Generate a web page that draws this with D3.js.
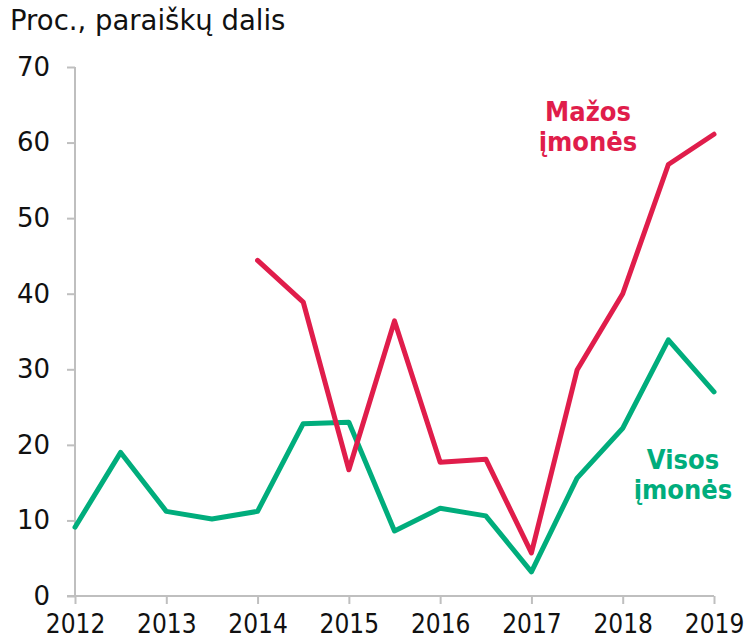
<!DOCTYPE html>
<meta charset="utf-8">
<style>
body { margin: 0; background: #fff; }
text { font-family: "DejaVu Sans", Verdana, sans-serif; fill: #111; }
.x.axis .tick text { font-family: "DejaVu Sans Condensed", "DejaVu Sans", sans-serif; }
.axis path, .axis line { stroke: #bfbfbf; stroke-width: 2px; }
.line { fill: none; stroke-width: 5px; stroke-linejoin: round; stroke-linecap: round; }
</style>
<svg width="746" height="639"></svg>
<script src="https://d3js.org/d3.v7.min.js"></script>
<script>
// half-year points, 2012 .. 2019
var periods = [2012, 2012.5, 2013, 2013.5, 2014, 2014.5, 2015, 2015.5, 2016, 2016.5, 2017, 2017.5, 2018, 2018.5, 2019];
var visos = [9.1, 19.0, 11.2, 10.2, 11.2, 22.8, 23.0, 8.6, 11.6, 10.6, 3.2, 15.6, 22.2, 33.9, 27.0];
var mazos = [null, null, null, null, 44.4, 38.9, 16.7, 36.4, 17.7, 18.1, 5.7, 29.9, 40.0, 57.1, 61.1];
var yearTicks = [2012, 2013, 2014, 2015, 2016, 2017, 2018, 2019];
var yTicks = [0, 10, 20, 30, 40, 50, 60, 70];

var svg = d3.select("svg");

var x = d3.scaleLinear().domain([2012, 2019]).range([75, 714]);
var y = d3.scaleLinear().domain([0, 70]).range([596, 67]);

svg.append("text")
    .attr("x", 10).attr("y", 30)
    .style("font-size", "27.5px")
    .text("Proc., paraiškų dalis");

var yAxis = svg.append("g").attr("class", "y axis")
    .attr("transform", "translate(75,0)")
    .call(d3.axisLeft(y).tickValues(yTicks).tickSize(8).tickSizeOuter(0).tickPadding(17));
yAxis.select(".domain").remove();
yAxis.append("line").attr("x1", 0).attr("x2", 0).attr("y1", y(70)).attr("y2", y(0));
yAxis.selectAll("text").style("font-size", "26px").style("fill", "#111");

var xAxis = svg.append("g").attr("class", "x axis")
    .attr("transform", "translate(0,596)")
    .call(d3.axisBottom(x).tickValues(yearTicks).tickFormat(d3.format("d")).tickSize(8).tickSizeOuter(0).tickPadding(6));
xAxis.select(".domain").remove();
xAxis.append("line").attr("x1", x(2012) - 8).attr("x2", x(2019)).attr("y1", 0).attr("y2", 0);
xAxis.selectAll("text").style("font-size", "26px").style("fill", "#111").attr("dy", "0.9em");

var line = d3.line()
    .defined(function(d) { return d[1] != null; })
    .x(function(d) { return x(d[0]); })
    .y(function(d) { return y(d[1]); });

svg.append("path").attr("class", "line")
    .attr("stroke", "#00ad7c")
    .attr("d", line(d3.zip(periods, visos)));

svg.append("path").attr("class", "line")
    .attr("stroke", "#e01d4b")
    .attr("d", line(d3.zip(periods, mazos)));

function label(lines, cx, cy, color) {
  var t = svg.append("text")
      .attr("text-anchor", "middle")
      .style("font-family", "'DejaVu Sans Condensed', 'DejaVu Sans', sans-serif")
      .style("font-size", "27px")
      .style("font-weight", "bold")
      .style("fill", color);
  lines.forEach(function(s, i) {
    t.append("tspan").attr("x", cx).attr("y", cy + i * 30).text(s);
  });
}
label(["Mažos", "įmonės"], 588, 121, "#e01d4b");
label(["Visos", "įmonės"], 683, 469, "#00ad7c");
</script>
